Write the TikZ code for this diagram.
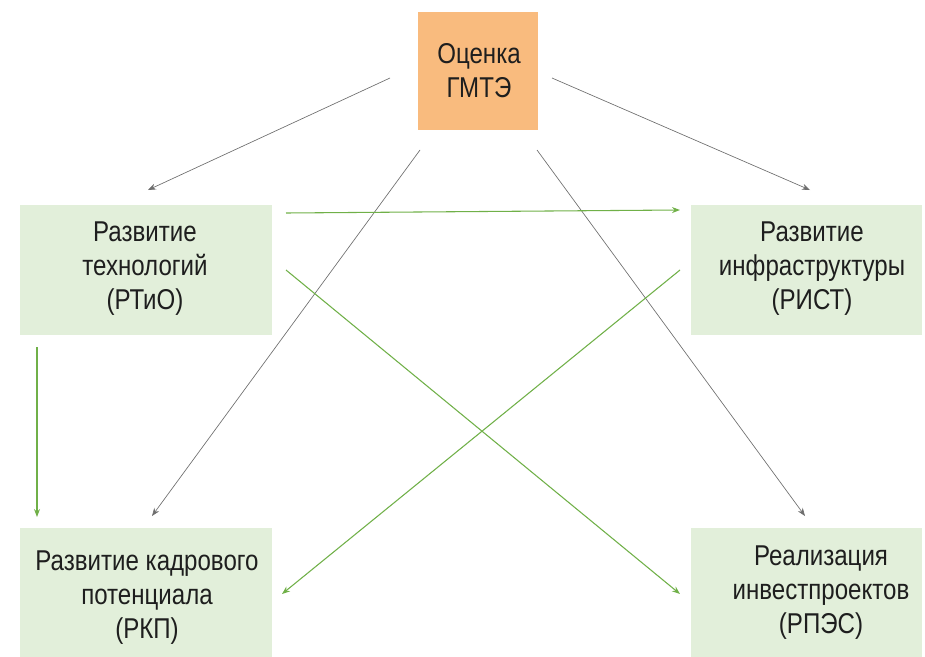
\documentclass[tikz,border=0pt]{standalone}
\usepackage{fontspec}
\setmainfont[FakeStretch=0.84]{Liberation Sans}
\usetikzlibrary{arrows.meta}
\definecolor{boxorange}{HTML}{F9BB7E}
\definecolor{boxgreen}{HTML}{E2EFDA}
\definecolor{linegreen}{HTML}{70B048}
\definecolor{linegray}{HTML}{6E6E6E}
\definecolor{txt}{HTML}{1E1E1E}
\tikzset{
  box/.style={fill=boxgreen, text=txt, align=center, font=\fontsize{21.5}{25.5}\selectfont},
  topbox/.style={box, fill=boxorange},
  grayarr/.style={draw=linegray, line width=0.5pt, -{Stealth[length=6pt,width=4.5pt]}},
  greenarr/.style={draw=linegreen, line width=0.8pt, -{Stealth[length=6pt,width=4.5pt]}}
}
\begin{document}
\begin{tikzpicture}[x=0.75pt, y=-0.75pt]
\useasboundingbox (0,0) rectangle (925,657);

% boxes
  \fill[boxorange] (418,12) rectangle (538,130);
  \fill[boxgreen] (20,205) rectangle (272,335);
  \fill[boxgreen] (691,205) rectangle (922,335);
  \fill[boxgreen] (20,528) rectangle (272,657);
  \fill[boxgreen] (691,528) rectangle (922,657);

  % texts
  \node[topbox] (gmte) at (479,71) {Оценка\\ГМТЭ};
  \node[box] (rtio) at (145,269) {Развитие\\технологий\\(РТиО)};
  \node[box] (rist) at (812,269) {Развитие\\инфраструктуры\\(РИСТ)};
  \node[box] (rkp) at (147,598) {Развитие кадрового\\потенциала\\(РКП)};
  \node[box] (rpes) at (821,593) {Реализация\\инвестпроектов\\(РПЭС)};

  % arrow ends
  \coordinate (g1) at (390,78);   \coordinate (t1) at (148,190);
  \coordinate (g2) at (552,78);   \coordinate (t2) at (810,190);
  \coordinate (g3) at (420,150);  \coordinate (t3) at (152,516);
  \coordinate (g4) at (537,150);  \coordinate (t4) at (805,516);
  \coordinate (r1) at (286,213);  \coordinate (s1) at (680,210);
  \coordinate (r2) at (37,347);   \coordinate (s2) at (37,517);
  \coordinate (r3) at (286,270);  \coordinate (s3) at (680,594);
  \coordinate (r4) at (680,270);  \coordinate (s4) at (282,594);

  % gray arrows
  \draw[grayarr] (g1) -- (t1);
  \draw[grayarr] (g2) -- (t2);
  \draw[grayarr] (g3) -- (t3);
  \draw[grayarr] (g4) -- (t4);

  % green arrows
  \draw[greenarr] (r1) -- (s1);
  \draw[greenarr] (r2) -- (s2);
  \draw[greenarr] (r3) -- (s3);
  \draw[greenarr] (r4) -- (s4);

\end{tikzpicture}
\end{document}
